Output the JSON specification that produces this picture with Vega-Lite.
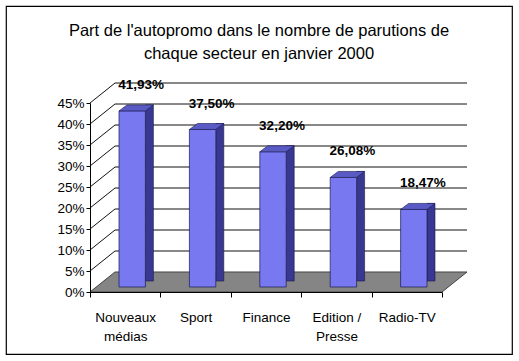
{
  "$schema": "https://vega.github.io/schema/vega-lite/v6.json",
  "width": 506,
  "height": 348,
  "autosize": {"type": "none"},
  "padding": {"left": 6, "top": 6, "right": 7, "bottom": 7},
  "background": "white",
  "config": {
    "view": {"stroke": "#000", "strokeWidth": 1.2},
    "font": "Liberation Sans",
    "locale": {"number": {"decimal": ",", "thousands": " ", "grouping": [3], "currency": ["", " €"]}}
  },
  "title": {
    "text": ["Part de l'autopromo dans le nombre de parutions de", "chaque secteur en janvier 2000"],
    "orient": "top",
    "anchor": "middle",
    "frame": "group",
    "baseline": "top",
    "offset": -56,
    "fontSize": 16.5,
    "fontWeight": "normal",
    "lineHeight": 23,
    "color": "#000"
  },
  "datasets": {
    "bars": [
      {"secteur": "Nouveaux médias", "part": 0.4193},
      {"secteur": "Sport", "part": 0.375},
      {"secteur": "Finance", "part": 0.322},
      {"secteur": "Edition / Presse", "part": 0.2608},
      {"secteur": "Radio-TV", "part": 0.1847}
    ],
    "grid": [
      {"v": 0.05}, {"v": 0.1}, {"v": 0.15}, {"v": 0.2}, {"v": 0.25},
      {"v": 0.3}, {"v": 0.35}, {"v": 0.4}, {"v": 0.45}
    ]
  },
  "layer": [
    {
      "data": {"name": "grid"},
      "mark": {"type": "rule", "color": "#111", "strokeWidth": 1, "xOffset": 25, "x2Offset": 25, "yOffset": -20},
      "encoding": {
        "x": {"datum": "Nouveaux médias", "bandPosition": 0, "type": "nominal",
              "scale": {"type": "band", "domain": ["Nouveaux médias", "Sport", "Finance", "Edition / Presse", "Radio-TV"], "range": [84, 436], "paddingInner": 0, "paddingOuter": 0},
              "axis": {"orient": "bottom", "offset": -62, "title": null, "tickBand": "extent", "tickSize": 5, "tickColor": "#000", "domainColor": "#000", "labelAngle": 0, "labelAlign": "center", "labelFontSize": 13.5, "labelColor": "#000", "labelPadding": 13, "labelLineHeight": 19.5, "labelOverlap": false, "zindex": 1,
                       "labelExpr": "datum.label == 'Nouveaux médias' ? ['Nouveaux', 'médias'] : datum.label == 'Edition / Presse' ? ['Edition /', 'Presse'] : datum.label"}},
        "x2": {"datum": "Radio-TV", "bandPosition": 1},
        "y": {"field": "v", "type": "quantitative", "scale": {"domain": [0, 0.45], "range": [286, 97], "nice": false},
              "axis": {"orient": "left", "offset": -84, "title": null, "values": [0, 0.05, 0.1, 0.15, 0.2, 0.25, 0.3, 0.35, 0.4, 0.45], "tickCount": 20, "format": ".0%", "tickSize": 4, "tickColor": "#000", "domainColor": "#000", "labelFontSize": 13.5, "labelColor": "#000", "labelPadding": 2, "labelOverlap": false, "grid": false, "zindex": 1}}
      }
    },
    {
      "data": {"name": "grid"},
      "mark": {"type": "rule", "color": "#111", "strokeWidth": 1, "x2Offset": 25, "y2Offset": -20},
      "encoding": {
        "x": {"datum": "Nouveaux médias", "bandPosition": 0, "type": "nominal"},
        "x2": {"datum": "Nouveaux médias", "bandPosition": 0},
        "y": {"field": "v", "type": "quantitative"},
        "y2": {"field": "v"}
      }
    },
    {
      "data": {"name": "bars"},
      "mark": {"type": "point", "shape": "M-1,0.0531L0.8674,0.0531L1,-0.0531L-0.8674,-0.0531Z", "size": 142129, "filled": true, "fill": "#858585", "stroke": "#444", "strokeWidth": 1, "opacity": 1, "xOffset": 12.5, "yOffset": -10},
      "encoding": {
        "x": {"datum": "Finance", "type": "nominal"},
        "y": {"datum": 0, "type": "quantitative"}
      },
      "transform": [{"filter": "datum.secteur == 'Finance'"}]
    },
    {
      "data": {"name": "bars"},
      "mark": {"type": "bar", "width": 8, "color": "#383890", "stroke": "#1a1a50", "strokeWidth": 0.6, "xOffset": 24.2, "yOffset": -11, "y2Offset": -8},
      "encoding": {
        "x": {"field": "secteur", "type": "nominal", "sort": null},
        "y": {"field": "part", "type": "quantitative"}
      }
    },
    {
      "data": {"name": "bars"},
      "mark": {"type": "bar", "width": {"band": 0.375}, "color": "#7878f0", "stroke": "#1a1a50", "strokeWidth": 0.7, "xOffset": 7, "yOffset": -5, "y2Offset": -5},
      "encoding": {
        "x": {"field": "secteur", "type": "nominal", "sort": null},
        "y": {"field": "part", "type": "quantitative"}
      }
    },
    {
      "data": {"name": "bars"},
      "mark": {"type": "point", "shape": "M-1,0.1744L0.535,0.1744L1,-0.1744L-0.535,-0.1744Z", "size": 1183, "filled": true, "fill": "#5a5ac4", "stroke": "#1a1a50", "strokeWidth": 0.6, "opacity": 1, "xOffset": 11, "yOffset": -8},
      "encoding": {
        "x": {"field": "secteur", "type": "nominal", "sort": null},
        "y": {"field": "part", "type": "quantitative"}
      }
    },
    {
      "data": {"name": "bars"},
      "mark": {"type": "text", "fontWeight": "bold", "fontSize": 13.5, "color": "#000", "baseline": "middle", "align": "center", "xOffset": 16, "yOffset": -31},
      "encoding": {
        "x": {"field": "secteur", "type": "nominal", "sort": null},
        "y": {"field": "part", "type": "quantitative"},
        "text": {"field": "part", "type": "quantitative", "format": ".2%"}
      }
    }
  ]
}
